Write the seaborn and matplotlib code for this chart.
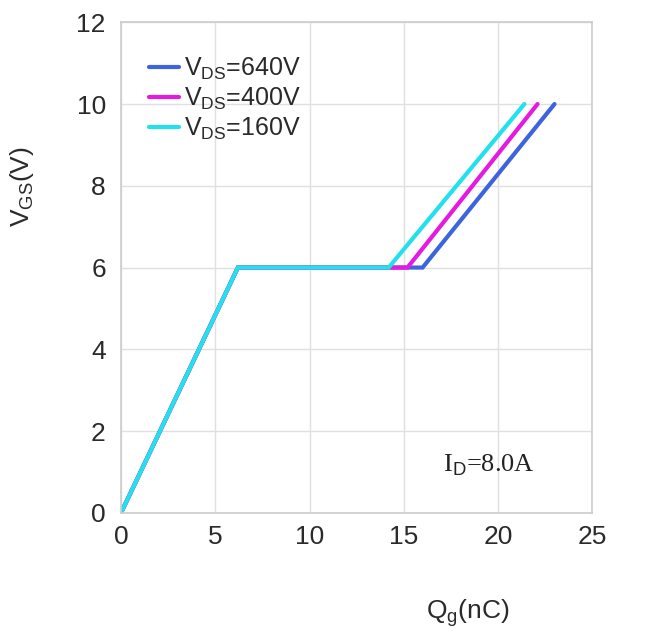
import matplotlib
matplotlib.use("Agg")
import matplotlib.pyplot as plt
import seaborn as sns
import pandas as pd

# Data
labels = ["V$_{\\mathrm{DS}}$=640V", "V$_{\\mathrm{DS}}$=400V", "V$_{\\mathrm{DS}}$=160V"]
qg_640 = [0.0, 6.2, 16.0, 23.0]
vgs_640 = [0.0, 6.0, 6.0, 10.0]
qg_400 = [0.0, 6.2, 15.2, 22.1]
vgs_400 = [0.0, 6.0, 6.0, 10.0]
qg_160 = [0.0, 6.2, 14.2, 21.4]
vgs_160 = [0.0, 6.0, 6.0, 10.0]
colors = ["#3D63DD", "#E619E0", "#22E0EE"]
xticks = [0, 5, 10, 15, 20, 25]
yticks = [0, 2, 4, 6, 8, 10, 12]

sns.set_theme(style="whitegrid")
plt.rcParams["font.family"] = ["Liberation Sans", "DejaVu Sans"]
plt.rcParams["mathtext.fontset"] = "custom"
plt.rcParams["mathtext.rm"] = "Liberation Sans"
plt.rcParams["mathtext.it"] = "Liberation Sans"

fig = plt.figure(figsize=(6.58, 6.37), dpi=100)
ax = fig.add_axes([0.184, 0.195, 0.716, 0.770])

series = [(qg_640, vgs_640), (qg_400, vgs_400), (qg_160, vgs_160)]
for (xs, ys), lab, col in zip(series, labels, colors):
    df = pd.DataFrame({"Qg": xs, "VGS": ys})
    sns.lineplot(data=df, x="Qg", y="VGS", ax=ax, color=col, lw=3.0,
                 sort=False, label=lab, solid_joinstyle="miter")

ax.set_xlim(0, 25)
ax.set_ylim(0, 12)
ax.set_xticks(xticks)
ax.set_yticks(yticks)
ax.tick_params(axis="both", labelsize=19, colors="#2a2a2a", length=0)
ax.tick_params(axis="x", pad=9)
ax.tick_params(axis="y", pad=11)
ax.grid(True, color="#E0E0E0", lw=1)
for s in ax.spines.values():
    s.set_color("#CCCCCC")
    s.set_linewidth(1.2)

ax.set_xlabel("Q$_{\\mathrm{g}}$(nC)", fontsize=19, color="#2a2a2a")
ax.set_ylabel("V$_{\\mathrm{GS}}$(V)", fontsize=19, color="#2a2a2a")
ax.xaxis.set_label_coords(0.735, -0.172)
ax.yaxis.set_label_coords(-0.18, 0.665)

leg = ax.legend(loc="upper left", bbox_to_anchor=(0.027, 0.962), frameon=False,
                fontsize=18, handlelength=1.2, handletextpad=0.2,
                labelspacing=0.15, borderaxespad=0.2)
for t in leg.get_texts():
    t.set_color("#2a2a2a")
for h in leg.get_lines():
    h.set_linewidth(3)

ax.text(19.5, 1.17, "I$_{\\mathrm{D}}$=8.0A", fontsize=19, ha="center", va="center",
        family=["Liberation Serif"], color="#222222")

fig.savefig("out.png", dpi=100)
